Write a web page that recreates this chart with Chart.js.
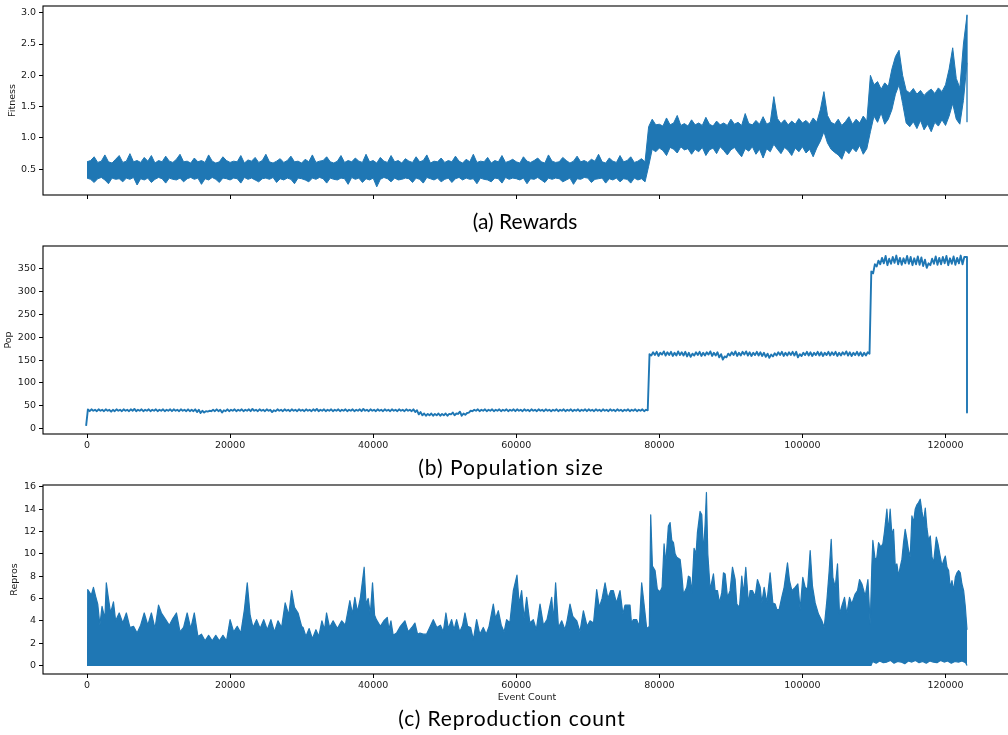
<!DOCTYPE html>
<html>
<head>
<meta charset="utf-8">
<script src="https://cdn.jsdelivr.net/npm/chart.js@4"></script>
<style>
  html, body { margin: 0; padding: 0; background: #fff; overflow: hidden; }
  body { width: 1008px; height: 735px; position: relative; }
  canvas { position: absolute; left: 0; }
  .caption {
    position: absolute; font-family: Lato, sans-serif; font-size: 21px;
    line-height: 24px; color: #000; white-space: nowrap; transform: translateX(-50%);
    font-variant-ligatures: none;
  }
</style>
</head>
<body>
<canvas id="rewardsChart" width="1011" height="215" style="top:0px"></canvas>
<div class="caption" style="left:525px; top:209px">(a) Rewards</div>
<canvas id="popChart" width="1011" height="215" style="top:240px"></canvas>
<div class="caption" style="left:511px; top:455px; letter-spacing:1px">(b) Population size</div>
<canvas id="reproChart" width="1011" height="230" style="top:478px"></canvas>
<div class="caption" style="left:512px; top:706px; letter-spacing:0.9px">(c) Reproduction count</div>

<script>
// shared x axis (event count)
const eventTicks = [0, 20000, 40000, 60000, 80000, 100000, 120000];

// (a) fitness: lowest and highest value in each 500-event bin (0 .. 123000)
const FIT_STEP = 500;
const fitHigh = [
  0.62,0.64,0.70,0.61,0.63,0.73,0.62,0.60,0.66,0.72,
  0.61,0.63,0.75,0.62,0.64,0.61,0.69,0.63,0.72,0.60,
  0.64,0.62,0.71,0.63,0.61,0.66,0.74,0.62,0.63,0.60,
  0.68,0.62,0.64,0.61,0.73,0.63,0.60,0.62,0.70,0.64,
  0.61,0.63,0.62,0.72,0.60,0.65,0.63,0.69,0.61,0.64,
  0.74,0.62,0.60,0.63,0.67,0.61,0.64,0.71,0.62,0.63,
  0.60,0.66,0.62,0.73,0.61,0.63,0.64,0.70,0.62,0.60,
  0.63,0.72,0.61,0.64,0.62,0.68,0.63,0.61,0.74,0.62,
  0.64,0.60,0.69,0.63,0.61,0.72,0.62,0.64,0.60,0.67,
  0.63,0.61,0.70,0.62,0.64,0.73,0.60,0.63,0.62,0.68,
  0.61,0.64,0.62,0.71,0.63,0.60,0.66,0.62,0.74,0.61,
  0.63,0.62,0.69,0.60,0.64,0.62,0.72,0.61,0.63,0.66,
  0.62,0.60,0.70,0.63,0.61,0.64,0.68,0.62,0.60,0.73,
  0.63,0.61,0.62,0.69,0.64,0.60,0.63,0.71,0.62,0.64,
  0.61,0.66,0.63,0.74,0.62,0.60,0.68,0.63,0.61,0.72,
  0.62,0.64,0.70,0.61,0.63,0.67,0.62,
  1.18,1.30,1.21,
  1.22,1.19,1.32,1.21,1.24,1.36,1.20,1.23,1.19,1.29,
  1.21,1.24,1.20,1.33,1.22,1.19,1.27,1.21,1.24,1.20,
  1.30,1.22,1.25,1.20,1.39,1.23,1.21,1.28,1.22,1.34,
  1.22,1.25,1.66,1.31,1.23,1.29,1.21,1.27,1.22,1.31,
  1.24,1.28,1.22,1.32,1.25,1.45,1.74,1.36,1.25,1.22,
  1.30,1.20,1.26,1.34,1.22,1.30,1.24,1.35,1.27,
  2.00,1.85,1.90,1.78,1.88,1.82,2.10,2.30,2.40,2.00,1.76,
  1.72,1.79,1.70,1.76,1.68,1.74,1.78,1.71,1.80,1.74,1.85,
  2.10,2.44,1.95,1.80,2.50,2.96
];
const fitLow = [
  0.36,0.34,0.29,0.35,0.37,0.33,0.27,0.36,0.34,0.35,
  0.30,0.36,0.34,0.37,0.25,0.35,0.33,0.36,0.29,0.34,
  0.37,0.35,0.28,0.36,0.34,0.33,0.36,0.30,0.35,0.37,
  0.34,0.36,0.26,0.35,0.33,0.37,0.34,0.29,0.36,0.35,
  0.33,0.36,0.35,0.28,0.37,0.34,0.36,0.33,0.30,0.35,
  0.36,0.34,0.37,0.29,0.35,0.33,0.36,0.34,0.27,0.36,
  0.35,0.33,0.30,0.36,0.34,0.37,0.35,0.28,0.36,0.34,
  0.33,0.36,0.35,0.26,0.37,0.34,0.36,0.29,0.35,0.33,
  0.36,0.22,0.34,0.37,0.35,0.30,0.36,0.33,0.34,0.36,
  0.35,0.29,0.36,0.34,0.28,0.37,0.35,0.33,0.36,0.30,
  0.34,0.36,0.29,0.35,0.37,0.33,0.36,0.34,0.35,0.27,
  0.36,0.34,0.33,0.30,0.36,0.35,0.28,0.37,0.34,0.36,
  0.35,0.33,0.36,0.27,0.35,0.34,0.37,0.33,0.29,0.36,
  0.34,0.36,0.35,0.30,0.33,0.36,0.26,0.35,0.34,0.37,
  0.36,0.29,0.34,0.35,0.36,0.28,0.35,0.33,0.36,0.30,
  0.35,0.34,0.28,0.36,0.33,0.35,0.30,
  0.55,0.82,0.78,
  0.84,0.80,0.72,0.85,0.82,0.76,0.86,0.81,0.83,0.74,
  0.82,0.78,0.85,0.72,0.81,0.84,0.75,0.86,0.80,0.73,
  0.81,0.85,0.77,0.70,0.83,0.79,0.86,0.74,0.82,0.68,
  0.83,0.78,0.90,0.82,0.75,0.85,0.80,0.72,0.84,0.78,
  0.86,0.76,0.82,0.70,0.84,0.95,1.10,0.92,0.82,0.77,
  0.73,0.66,0.81,0.75,0.84,0.78,0.88,0.74,0.83,
  1.10,1.35,1.25,1.40,1.22,1.30,1.45,1.70,1.85,1.55,1.24,
  1.18,1.26,1.15,1.28,1.13,1.22,1.10,1.25,1.19,1.29,1.20,
  1.35,1.55,1.30,1.22,1.60,2.20
];
const fitLast = 1.26;
const fitTicks = [0.5, 1.0, 1.5, 2.0, 2.5, 3.0];

// (b) population size, same 500-event bins (0 .. 122500) plus the final value
const POP_STEP = 500;
const popLow = [
  6,38,39,38,39,38,39,37,38,39,
  38,39,38,39,38,39,38,39,38,39,
  38,39,38,39,38,39,38,39,38,38,
  38,36,34,35,37,38,38,38,35,38,
  38,39,38,39,38,39,38,39,38,39,
  38,39,36,38,39,38,39,38,39,38,
  39,38,39,38,39,38,39,38,39,38,
  39,38,39,38,39,38,39,38,39,38,
  39,38,39,38,39,38,39,38,39,38,
  39,38,36,31,29,28,29,28,29,28,
  29,28,31,29,32,28,30,35,38,39,
  38,39,38,39,38,39,38,39,38,39,
  38,39,38,39,38,39,38,39,38,39,
  38,39,38,39,38,39,38,39,38,39,
  38,39,38,39,38,39,38,39,38,39,
  38,39,38,39,38,39,38,
  40,
  160,161,159,162,160,161,159,160,161,160,
  158,157,160,161,159,160,162,159,160,156,
  151,156,160,161,159,160,162,160,159,161,
  160,159,157,155,158,160,161,159,160,161,
  160,156,159,161,160,159,161,160,159,161,
  160,161,159,160,162,160,159,161,160,159,
  160,
  164,
  340,355,360,362,358,361,363,360,359,362,
  361,358,360,359,356,352,358,361,359,360,
  362,358,361,359,362,360
];
const popHigh = [
  42,42,41,42,41,42,41,41,42,41,
  42,41,42,43,41,42,41,42,41,42,
  41,42,41,42,42,41,42,41,42,41,
  42,41,39,38,39,41,42,41,40,42,
  41,42,41,42,41,42,43,41,42,41,
  42,41,40,42,41,42,41,42,41,42,
  41,42,41,42,43,41,42,41,42,41,
  42,41,42,41,42,41,42,43,41,42,
  41,42,41,42,41,42,41,42,41,42,
  41,42,40,36,33,32,33,32,33,32,
  33,32,35,33,37,33,34,39,41,42,
  41,42,41,42,41,42,41,42,41,42,
  42,41,42,41,42,41,42,41,42,41,
  41,42,41,42,41,42,41,42,41,42,
  42,41,42,41,42,41,42,41,42,41,
  41,42,41,42,41,42,41,
  163,
  167,168,166,169,167,168,166,169,167,168,
  166,164,167,168,166,167,169,166,167,163,
  158,164,167,169,166,168,169,167,166,168,
  167,166,164,162,165,167,168,166,167,168,
  168,163,166,168,167,166,168,167,166,168,
  167,168,166,167,169,167,166,168,167,166,
  167,
  344,
  360,368,374,378,372,376,379,374,373,378,
  376,373,377,375,370,362,372,377,374,376,
  378,373,377,374,379,376
];
const popLastEvent = 123000;
const popLast = 35;
const popTicks = [0, 50, 100, 150, 200, 250, 300, 350];

// (c) reproductions: peaks of the trace and its floor
const reproEvents = [
  0,100,600,900,1200,1500,1800,2100,2500,2700,3000,3300,3700,4000,4500,5000,5500,6000,6500,7000,
  7500,8000,8500,9000,9500,10000,10400,11000,11500,12000,12500,13000,13500,14000,14500,15000,
  15500,16000,16500,17000,17500,18000,18500,19000,19500,20000,20500,21000,21500,22000,22400,
  22800,23200,23700,24200,24700,25200,25700,26200,26700,27200,27700,28200,28600,29000,29500,30000,
  30200,30600,31050,31500,32000,32400,32830,33200,33480,33900,34400,35000,35600,36100,36740,
  37100,37440,37800,38200,38740,39000,39300,39600,39910,40200,40450,41000,41500,41970,42200,
  42480,42800,43270,43800,44430,44900,45400,45830,46200,46530,47000,47460,47900,48400,48900,
  49400,49800,50170,50500,50960,51300,51660,52100,52500,52830,53200,53620,54000,54460,54900,
  55390,55800,56200,56790,57100,57490,57900,58300,58650,59100,59590,60100,60400,60750,61100,
  61450,61900,62380,62800,63320,63800,64300,64950,65200,65500,65900,66350,66800,67100,67510,
  67900,68450,68900,69380,69900,70310,70800,71240,71600,72000,72410,72800,73200,73570,74000,
  74500,74900,75200,75900,76100,76370,76830,77200,77530,77860,78230,78600,
  78790,79030,79400,79720,80100,80380,80660,80890,81260,81500,81740,81970,82200,82430,82900,
  83130,83360,83600,83830,84060,84290,84530,84850,85130,85320,85690,85930,86160,86390,86580,
  86770,87100,87560,87790,88120,88400,88720,88960,89190,89520,89890,90220,90590,90820,91200,
  91520,91760,92080,92460,92690,93010,93390,93710,94090,94320,94650,95020,95480,95860,96180,
  96420,96740,97110,97440,97910,98190,98520,98980,99360,99680,100050,100380,100710,101080,101400,
  101780,102240,102710,103040,103410,103740,104020,104250,104580,104900,105180,105500,105880,106200,106580,
  106900,107370,107700,107980,108310,108770,109150,109470,109700,109840,110170,110400,110640,110960,111240,
  111470,111800,112030,112260,112500,112730,112970,113200,113430,113660,113900,114130,114360,114600,114830,
  115060,115300,115530,115760,116000,116230,116460,116700,116930,117170,117400,117630,117870,118100,118330,
  118710,118940,119270,119500,119730,119970,120200,120430,120660,120900,121130,121370,121600,121830,122060,
  122290,122530,122760,123000
];
const reproHigh = [
  0.9,6.8,6.3,7.0,6.2,5.5,3.6,5.3,4.2,7.4,6.0,4.7,5.7,4.0,4.7,3.8,4.7,3.4,3.5,2.9,
  3.6,4.7,3.6,4.7,3.3,5.4,4.7,4.1,3.6,4.2,4.7,3.0,3.4,4.7,3.3,4.7,
  2.6,2.8,2.2,2.7,2.2,2.7,2.2,2.7,2.2,4.1,3.0,3.5,2.9,5.0,7.4,
  4.5,3.4,4.1,3.3,4.1,3.2,4.1,3.0,4.0,3.4,5.6,4.5,6.7,5.2,4.7,3.5,
  3.4,2.6,3.3,2.4,3.2,2.6,4.0,3.2,4.7,3.4,4.0,3.3,4.0,3.6,5.8,
  4.6,6.1,4.8,6.0,8.8,5.5,6.0,4.6,7.4,4.5,4.1,3.5,4.0,4.3,3.2,
  4.0,2.7,2.9,3.5,4.0,3.0,3.4,3.8,2.8,2.9,2.8,2.8,3.4,4.1,3.4,
  3.6,3.0,4.7,3.3,4.1,3.2,4.1,3.0,3.6,4.7,3.5,3.4,2.3,4.1,2.8,
  3.4,2.8,3.5,5.5,4.2,4.9,3.6,3.0,4.1,3.8,6.7,8.1,5.5,6.7,4.2,
  6.1,3.8,4.1,3.2,5.5,3.6,4.1,6.1,4.0,7.4,3.4,4.0,3.2,4.0,5.5,
  4.4,4.0,3.0,4.9,3.5,4.0,3.8,6.8,5.2,6.0,7.4,6.0,6.7,6.7,5.6,
  6.7,4.6,5.4,5.4,3.8,4.1,4.1,3.5,7.4,5.5,3.3,3.5,
  13.5,8.9,8.5,6.8,6.6,7.0,10.9,9.1,12.5,12.8,11.2,11.0,10.0,9.7,9.5,
  8.2,6.4,6.7,7.0,8.0,7.9,6.5,10.5,10.0,11.9,13.8,13.5,10.1,12.6,15.5,
  10.0,6.8,8.2,6.7,6.7,5.6,6.5,8.3,8.2,6.1,6.7,8.8,7.7,5.5,5.2,
  8.0,6.4,8.8,5.5,6.7,6.7,6.2,7.7,7.0,5.6,7.0,5.6,8.3,5.6,5.5,
  5.0,5.0,6.1,7.0,9.2,7.6,6.7,7.0,7.3,5.0,7.9,7.0,6.8,10.3,7.1,
  5.6,4.6,4.0,3.4,5.8,8.5,11.3,7.9,7.0,9.1,4.6,5.3,6.1,4.6,6.1,
  5.5,6.4,6.7,7.7,7.3,6.2,7.7,3.7,8.9,11.2,9.4,9.7,11.0,10.6,10.9,
  12.0,14.0,12.0,14.0,11.7,12.2,8.9,9.1,8.0,8.8,9.5,11.0,12.2,11.3,10.3,
  9.7,13.4,12.8,14.0,14.4,14.6,14.9,13.8,12.9,14.1,12.3,11.2,11.6,9.7,9.2,
  11.5,10.9,9.7,8.9,9.4,9.8,8.8,8.5,7.0,7.6,6.7,7.9,8.3,8.5,8.3,
  7.3,6.7,5.3,3.2
];
const reproLowEvents = [
  0,109600,109800,110300,110800,111300,111800,112300,112800,113300,
  113800,114300,114800,115300,115800,116300,116800,117300,117800,118300,
  118800,119300,119800,120300,120800,121300,121800,122300,122800,123000
];
const reproLow = [
  0,0,0.35,0.20,0.40,0.25,0.30,0.45,0.20,0.35,
  0.30,0.15,0.40,0.30,0.45,0.25,0.35,0.20,0.40,0.30,
  0.25,0.45,0.30,0.40,0.20,0.35,0.30,0.40,0.25,0
];
const reproTicks = [0, 2, 4, 6, 8, 10, 12, 14, 16];

const BLUE = '#1f77b4';

Chart.defaults.font.family = '"DejaVu Sans", sans-serif';
Chart.defaults.font.size = 9.5;
Chart.defaults.color = '#1a1a1a';
Chart.defaults.animation = false;
Chart.defaults.plugins.legend.display = false;
Chart.defaults.plugins.tooltip.enabled = false;
Chart.defaults.elements.point.radius = 0;
Chart.defaults.elements.line.tension = 0;
Chart.defaults.elements.line.borderJoinStyle = 'round';

// black box round the plot area
const frame = {
  id: 'frame',
  afterDraw(chart) {
    const a = chart.chartArea, ctx = chart.ctx;
    ctx.save();
    ctx.strokeStyle = '#000';
    ctx.lineWidth = 1.1;
    ctx.strokeRect(a.left, a.top, a.right - a.left, a.bottom - a.top);
    ctx.restore();
  }
};

const pts = (xs, ys) => xs.map((x, i) => ({x: x, y: ys[i]}));
const binned = (step, ys) => ys.map((y, i) => ({x: i * step, y: y}));

// trace that swings from the low to the high value of every bin
function swing(step, lows, highs) {
  const out = [];
  lows.forEach((lo, i) => {
    out.push({x: i * step - step / 4, y: lo});
    out.push({x: i * step + step / 4, y: highs[i]});
  });
  return out;
}

function xAxis(height, labels, title) {
  return {
    type: 'linear', min: -6150, max: 129150,
    afterBuildTicks: s => { s.ticks = eventTicks.map(v => ({value: v})); },
    afterFit: s => { s.height = height; s.paddingLeft = 0; s.paddingRight = 0; },
    grid: {drawOnChartArea: false, tickLength: 4, color: '#000'},
    border: {display: false},
    ticks: {padding: 2, maxRotation: 0, autoSkip: false, callback: v => labels ? String(v) : ''},
    title: title ? {display: true, text: title, color: '#1a1a1a', padding: {top: 0, bottom: 5}} : {display: false}
  };
}

function yAxis(min, max, ticks, label, pad, fmt) {
  return {
    type: 'linear', min: min, max: max,
    afterBuildTicks: s => { s.ticks = ticks.map(v => ({value: v})); },
    afterFit: s => { s.width = 43; s.paddingTop = 0; s.paddingBottom = 0; },
    grid: {drawOnChartArea: false, tickLength: 4, color: '#000'},
    border: {display: false},
    ticks: {padding: 3, autoSkip: false, callback: fmt},
    title: {display: true, text: label, color: '#1a1a1a', padding: {top: pad, bottom: 0}}
  };
}

const line = (data, fill, width) => ({
  data: data, borderColor: BLUE, backgroundColor: BLUE, borderWidth: width || 1.2, fill: fill
});

const fitLastEvent = (fitHigh.length - 1) * FIT_STEP;

const popTrace = swing(POP_STEP, popLow, popHigh);
popTrace.push({x: popLastEvent, y: popHigh[popHigh.length - 1]});
popTrace.push({x: popLastEvent, y: popLast});

new Chart(document.getElementById('rewardsChart'), {
  type: 'line',
  data: {
    datasets: [
      line(binned(FIT_STEP, fitHigh), false, 1),
      line(binned(FIT_STEP, fitLow), '-1', 1),
      line([{x: fitLastEvent, y: fitHigh[fitHigh.length - 1]}, {x: fitLastEvent, y: fitLast}], false, 1.3)
    ]
  },
  options: {
    responsive: false,
    layout: {padding: {top: 6, left: 0, right: 0, bottom: 0}},
    scales: {
      x: xAxis(20, false),
      y: yAxis(0.09, 3.107, fitTicks, 'Fitness', 6.5, v => v.toFixed(1))
    }
  },
  plugins: [frame]
});

new Chart(document.getElementById('popChart'), {
  type: 'line',
  data: {datasets: [line(popTrace, false, 1.9)]},
  options: {
    responsive: false,
    layout: {padding: {top: 6, left: 0, right: 0, bottom: 0}},
    scales: {
      x: xAxis(21, true),
      y: yAxis(-12, 400, popTicks, 'Pop', 3.3, v => String(v))
    }
  },
  plugins: [frame]
});

new Chart(document.getElementById('reproChart'), {
  type: 'line',
  data: {
    datasets: [
      line(pts(reproEvents, reproHigh), false),
      line(pts(reproLowEvents, reproLow), '-1')
    ]
  },
  options: {
    responsive: false,
    layout: {padding: {top: 7, left: 0, right: 0, bottom: 0}},
    scales: {
      x: xAxis(34, true, 'Event Count'),
      y: yAxis(-0.77, 16.17, reproTicks, 'Repros', 9.3, v => String(v))
    }
  },
  plugins: [frame]
});
</script>
</body>
</html>
